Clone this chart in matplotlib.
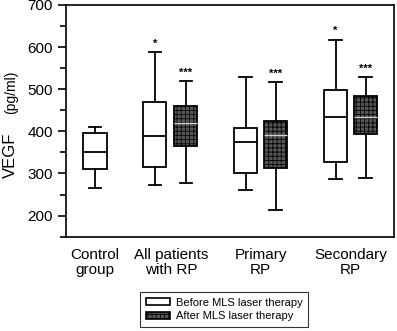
import matplotlib
matplotlib.use("Agg")
import matplotlib.pyplot as plt
from matplotlib.patches import Patch

plt.rcParams['font.family'] = ['Liberation Sans', 'DejaVu Sans']
plt.rcParams['hatch.color'] = '#d0d0d0'
plt.rcParams['hatch.linewidth'] = 0.6

categories = ["Control\ngroup", "All patients\nwith RP", "Primary\nRP", "Secondary\nRP"]
# box stats per box: whislo, q1, med, q3, whishi
box_names = ["Control", "All before", "All after", "Primary before", "Primary after",
             "Secondary before", "Secondary after"]
whislo = [266, 273, 278, 260, 213, 287, 289]
q1 = [311, 316, 365, 300, 312, 328, 393]
med = [350, 390, 420, 375, 391, 434, 434]
q3 = [395, 470, 460, 409, 424, 497, 484]
whishi = [411, 588, 520, 528, 516, 618, 529]
after = [False, False, True, False, True, False, True]
stars = ["", "*", "***", "", "***", "*", "***"]

positions = [0, 2, 3.03, 5.03, 6.03, 8.03, 9.03]
group_pos = [0, 2.55, 5.53, 8.53]

fig = plt.figure(figsize=(3.97, 3.31), dpi=100)
ax = fig.add_axes([0.166, 0.285, 0.826, 0.70])

stats = []
for i in range(len(box_names)):
    stats.append(dict(label=box_names[i], whislo=whislo[i], q1=q1[i], med=med[i],
                      q3=q3[i], whishi=whishi[i], fliers=[]))

lw = 1.3
bp = ax.bxp(stats, positions=positions, widths=0.77, patch_artist=True,
            showfliers=False, manage_ticks=False,
            boxprops=dict(linewidth=lw, edgecolor='black'),
            whiskerprops=dict(linewidth=lw, color='black'),
            capprops=dict(linewidth=lw, color='black'),
            medianprops=dict(linewidth=lw, color='black'),
            capwidths=0.42)
for i, box in enumerate(bp['boxes']):
    if after[i]:
        box.set_facecolor('#575757')
        box.set_hatch('++++')
        bp['medians'][i].set_color('#cfcfcf')
        bp['medians'][i].set_linewidth(1.0)
    else:
        box.set_facecolor('white')

for i, s in enumerate(stars):
    if s:
        ax.text(positions[i], whishi[i] + 8, s, ha='center', va='bottom', fontsize=8,
                fontweight='bold')

ax.set_ylim(150, 700)
ax.set_xlim(-0.97, 9.97)
ax.set_yticks([200, 300, 400, 500, 600, 700])
ax.set_yticks([150, 250, 350, 450, 550, 650], minor=True)
ax.tick_params(axis='y', which='major', length=6, width=1.2, labelsize=11, direction='out')
ax.tick_params(axis='y', which='minor', length=4, width=1.2, direction='out')
ax.set_xticks(group_pos)
ax.set_xticklabels(categories, fontsize=11, linespacing=1.1)
ax.tick_params(axis='x', length=0, pad=8)
for sp in ax.spines.values():
    sp.set_linewidth(1.2)

fig.text(0.027, 0.53, "VEGF", rotation=90, ha='center', va='center', fontsize=12)
fig.text(0.027, 0.72, "(pg/ml)", rotation=90, ha='center', va='center', fontsize=10)

handles = [Patch(facecolor='white', edgecolor='black', linewidth=1.2),
           Patch(facecolor='#575757', edgecolor='black', hatch='++++', linewidth=1.2)]
leg = fig.legend(handles, ["Before MLS laser therapy", "After MLS laser therapy"],
                 loc='center', bbox_to_anchor=(0.565, 0.065), fontsize=8,
                 frameon=True, fancybox=False, edgecolor='black', handlelength=2.2,
                 handleheight=0.6, handletextpad=0.5, borderpad=0.5, labelspacing=0.3)
leg.get_frame().set_linewidth(0.8)

fig.savefig("out.png", dpi=100)
